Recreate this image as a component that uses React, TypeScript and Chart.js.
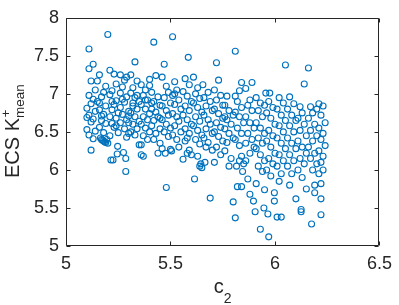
import React, { useEffect, useRef } from 'react';
import { Chart, registerables } from 'chart.js';

Chart.register(...registerables);

const xTicks = [5, 5.5, 6, 6.5];
const yTicks = [5, 5.5, 6, 6.5, 7, 7.5, 8];
const xLabel = { main: 'c', sub: '2' };
const yLabel = { main: 'ECS K', sup: '+', sub: 'mean' };

// [c2, ECS K+ mean] samples grouped by c2 range
const samplesA: [number, number][] = [
  [5.11,7.59],[5.13,7.39],[5.11,7.33],[5.12,7.17],[5.15,7.17],[5.14,7.05],[5.11,6.98],[5.13,6.93],[5.12,6.87],[5.10,6.81],[5.14,6.77],[5.11,6.72],[5.13,6.67],[5.12,6.63],[5.10,6.53],[5.14,6.51],[5.11,6.46],[5.13,6.41],[5.12,6.26],[5.15,6.90],[5.10,6.69],
  [5.20,7.78],[5.16,7.25],[5.18,7.02],[5.17,6.96],[5.19,6.84],[5.16,6.79],[5.18,6.73],[5.17,6.65],[5.19,6.61],[5.16,6.56],[5.18,6.49],[5.165,6.42],[5.17,6.40],[5.175,6.39],[5.18,6.38],[5.185,6.37],[5.19,6.36],[5.20,6.35],[5.195,6.40],[5.16,6.88],[5.19,7.10],[5.17,6.71],
  [5.21,7.31],[5.23,7.26],[5.24,7.13],[5.22,7.04],[5.21,6.99],[5.24,6.91],[5.23,6.86],[5.22,6.79],[5.25,6.75],[5.21,6.70],[5.24,6.68],[5.22,6.61],[5.23,6.56],[5.25,6.49],[5.21,6.45],[5.215,6.13],[5.225,6.13],[5.247,6.31],[5.245,6.21],[5.22,6.90],[5.24,6.58],
  [5.26,7.25],[5.28,7.18],[5.29,7.22],[5.27,7.09],[5.26,7.01],[5.29,6.96],[5.28,6.89],[5.26,6.82],[5.30,6.77],[5.27,6.73],[5.29,6.66],[5.26,6.62],[5.28,6.54],[5.30,6.48],[5.29,6.43],[5.275,6.23],[5.286,6.15],[5.286,5.98],[5.27,6.93],[5.30,6.71],
  [5.33,7.42],[5.31,7.25],[5.34,7.17],[5.32,7.08],[5.31,7.01],[5.33,6.95],[5.35,6.90],[5.32,6.84],[5.34,6.80],[5.31,6.75],[5.33,6.70],[5.35,6.64],[5.32,6.60],[5.34,6.54],[5.31,6.50],[5.33,6.46],[5.35,6.33],[5.32,6.88],[5.30,6.62],[5.34,6.98],
  [5.36,7.12],[5.38,7.05],[5.37,6.98],[5.39,6.92],[5.36,6.86],[5.38,6.80],[5.37,6.70],[5.39,6.66],[5.36,6.60],[5.38,6.55],[5.37,6.45],[5.36,6.33],[5.36,6.20],[5.37,6.18],[5.39,6.40],[5.38,6.92],
];

const samplesB: [number, number][] = [
  [5.40,7.19],[5.40,6.74],[5.40,6.50],
  [5.42,7.68],[5.40,7.11],[5.43,7.24],[5.41,7.02],[5.44,6.96],[5.42,6.90],[5.45,6.85],[5.41,6.80],[5.43,6.76],[5.44,6.70],[5.42,6.65],[5.41,6.58],[5.45,6.54],[5.43,6.48],[5.44,6.22],[5.42,6.40],[5.41,6.88],[5.45,6.68],
  [5.47,7.39],[5.48,7.10],[5.46,7.22],[5.49,7.02],[5.47,6.95],[5.50,6.88],[5.46,6.84],[5.48,6.78],[5.49,6.72],[5.46,6.66],[5.48,6.60],[5.50,6.55],[5.47,6.50],[5.46,6.28],[5.475,6.22],[5.48,5.77],[5.49,6.44],[5.45,6.35],
  [5.51,7.75],[5.52,7.16],[5.53,7.05],[5.51,6.98],[5.54,6.92],[5.52,6.86],[5.55,6.80],[5.51,6.74],[5.53,6.70],[5.54,6.64],[5.52,6.58],[5.50,6.27],[5.505,6.25],[5.53,6.40],[5.55,6.50],[5.51,6.46],[5.54,6.30],[5.52,7.00],
  [5.585,7.48],[5.57,7.20],[5.59,7.12],[5.56,7.03],[5.58,6.97],[5.60,6.90],[5.57,6.84],[5.59,6.78],[5.56,6.72],[5.58,6.66],[5.60,6.60],[5.57,6.54],[5.59,6.48],[5.56,6.14],[5.58,6.22],[5.59,6.26],[5.60,6.20],[5.57,6.38],[5.58,6.42],
  [5.61,7.22],[5.63,7.08],[5.62,7.00],[5.64,6.94],[5.61,6.88],[5.63,6.82],[5.65,6.76],[5.62,6.70],[5.64,6.64],[5.61,6.58],[5.63,6.52],[5.65,6.46],[5.62,6.40],[5.63,6.18],[5.615,5.88],[5.64,6.05],[5.645,6.08],[5.65,6.03],[5.64,6.34],
  [5.655,7.12],[5.68,7.02],[5.66,6.95],[5.69,6.90],[5.67,6.84],[5.70,6.78],[5.66,6.72],[5.68,6.66],[5.69,6.60],[5.67,6.54],[5.70,6.48],[5.66,6.42],[5.68,6.36],[5.70,6.26],[5.665,6.10],[5.69,5.63],[5.67,6.30],
  [5.72,7.41],[5.73,7.18],[5.71,7.05],[5.74,6.98],[5.72,6.92],[5.75,6.85],[5.71,6.80],[5.73,6.74],[5.75,6.68],[5.72,6.62],[5.74,6.56],[5.71,6.50],[5.73,6.44],[5.75,6.38],[5.72,6.30],[5.74,6.20],[5.71,6.10],
  [5.76,6.25],[5.77,6.97],[5.76,6.85],[5.78,6.78],[5.77,6.66],[5.79,6.60],[5.76,6.54],[5.78,6.48],[5.77,6.36],[5.79,6.15],[5.78,6.05],[5.76,6.70],
];

const samplesC: [number, number][] = [
  [5.80,6.72],[5.80,6.42],[5.80,5.58],
  [5.81,7.56],[5.84,7.15],[5.83,7.04],[5.81,6.97],[5.82,6.90],[5.84,6.82],[5.81,6.76],[5.83,6.70],[5.85,6.62],[5.82,6.55],[5.84,6.48],[5.81,6.40],[5.83,6.32],[5.816,6.05],[5.83,6.12],[5.84,6.18],[5.845,5.98],[5.85,6.08],[5.81,5.37],[5.82,5.78],[5.84,5.78],
  [5.89,7.15],[5.86,7.07],[5.88,6.92],[5.87,6.85],[5.89,6.78],[5.86,6.70],[5.88,6.62],[5.90,6.55],[5.87,6.48],[5.89,6.40],[5.86,6.35],[5.88,6.22],[5.87,5.88],[5.88,5.68],[5.897,5.59],[5.905,5.45],[5.86,6.12],[5.90,6.30],
  [5.91,6.95],[5.93,6.88],[5.95,6.85],[5.92,6.78],[5.94,6.70],[5.91,6.62],[5.93,6.55],[5.95,6.48],[5.92,6.42],[5.94,6.35],[5.91,6.28],[5.93,6.20],[5.95,6.12],[5.92,6.05],[5.94,5.98],[5.93,5.22],[5.947,5.50],[5.95,5.74],[5.91,5.82],
  [5.956,7.01],[5.975,7.01],[5.97,6.90],[5.99,6.82],[5.96,6.75],[5.98,6.68],[5.97,6.52],[5.99,6.45],[5.96,6.38],[5.98,6.30],[5.97,6.15],[5.99,6.08],[5.96,6.00],[5.98,5.92],[5.97,5.12],[5.966,5.42],[5.997,5.59],[5.997,5.70],
];

const samplesD: [number, number][] = [
  [6.00,6.60],[6.00,6.22],
  [6.05,7.38],[6.02,6.95],[6.04,6.88],[6.01,6.80],[6.03,6.72],[6.05,6.65],[6.02,6.58],[6.04,6.50],[6.01,6.42],[6.03,6.35],[6.05,6.28],[6.02,6.20],[6.04,6.12],[6.01,6.05],[6.03,5.95],[6.01,5.38],[6.03,5.38],[6.02,5.85],
  [6.07,6.96],[6.09,6.87],[6.06,6.80],[6.08,6.72],[6.10,6.65],[6.07,6.58],[6.09,6.50],[6.06,6.42],[6.08,6.35],[6.10,6.28],[6.07,6.20],[6.09,6.12],[6.06,6.05],[6.08,5.95],[6.10,5.62],[6.07,5.80],
  [6.14,7.13],[6.12,6.83],[6.13,6.75],[6.11,6.68],[6.14,6.60],[6.12,6.52],[6.15,6.45],[6.11,6.38],[6.13,6.30],[6.15,6.22],[6.12,6.15],[6.14,6.08],[6.11,6.00],[6.125,5.45],[6.125,5.48],[6.13,5.90],[6.15,5.75],
  [6.16,7.34],[6.17,6.83],[6.18,6.75],[6.16,6.68],[6.19,6.60],[6.17,6.52],[6.20,6.45],[6.18,6.38],[6.16,6.30],[6.19,6.22],[6.17,6.15],[6.20,6.08],[6.18,6.00],[6.175,5.29],[6.19,5.70],[6.19,5.80],[6.20,6.80],
  [6.21,6.87],[6.23,6.84],[6.22,6.72],[6.24,6.62],[6.21,6.55],[6.23,6.48],[6.22,6.40],[6.24,6.32],[6.21,6.25],[6.23,6.18],[6.22,6.10],[6.21,5.95],[6.22,5.82],[6.22,5.62],[6.22,5.41],[6.23,6.00],
];

const FONT = "'Liberation Sans', Arial, Helvetica, sans-serif";
const AXIS_COLOR = '#262626';
const MARKER_COLOR = '#0072BD';

const fmt = (v: any) => String(Number(v));

const boxPlugin = {
  id: 'matlabBox',
  afterDraw(chart: any) {
    const { ctx, chartArea: a, scales } = chart;
    ctx.save();
    ctx.strokeStyle = AXIS_COLOR;
    ctx.lineWidth = 1;
    const L = Math.round(a.left) + 0.5;
    const R = Math.round(a.right) - 0.5;
    const T = Math.round(a.top) + 0.5;
    const B = Math.round(a.bottom) - 0.5;
    ctx.beginPath();
    ctx.rect(L, T, R - L, B - T);
    const tl = 4;
    xTicks.forEach((v) => {
      const px = Math.round(scales.x.getPixelForValue(v)) + 0.5;
      ctx.moveTo(px, B); ctx.lineTo(px, B - tl);
      ctx.moveTo(px, T); ctx.lineTo(px, T + tl);
    });
    yTicks.forEach((v) => {
      const py = Math.round(scales.y.getPixelForValue(v)) + 0.5;
      ctx.moveTo(L, py); ctx.lineTo(L + tl, py);
      ctx.moveTo(R, py); ctx.lineTo(R - tl, py);
    });
    ctx.stroke();

    // x axis title: c with subscript 2
    ctx.fillStyle = AXIS_COLOR;
    ctx.textBaseline = 'alphabetic';
    ctx.textAlign = 'left';
    const mainFont = `20px ${FONT}`;
    const subFont = `14px ${FONT}`;
    ctx.font = mainFont;
    const wc = ctx.measureText(xLabel.main).width;
    ctx.font = subFont;
    const w2 = ctx.measureText(xLabel.sub).width;
    const cx = (a.left + a.right) / 2;
    const startX = cx - (wc + w2) / 2;
    ctx.font = mainFont;
    ctx.fillText(xLabel.main, startX, 293);
    ctx.font = subFont;
    ctx.fillText(xLabel.sub, startX + wc, 303);

    // y axis title: ECS K^+_mean rotated
    ctx.save();
    ctx.translate(18.5, 178);
    ctx.rotate(-Math.PI / 2);
    ctx.font = mainFont;
    ctx.fillText(yLabel.main, 0, 0);
    const wm = ctx.measureText(yLabel.main).width;
    ctx.font = `13.5px ${FONT}`;
    ctx.fillText(yLabel.sup, wm + 0.5, -8.5);
    ctx.fillText(yLabel.sub, wm, 5.5);
    ctx.restore();
    ctx.restore();
  },
};

export default function App() {
  const ref = useRef<HTMLCanvasElement | null>(null);

  useEffect(() => {
    document.body.style.margin = '0';
    const canvas = ref.current;
    if (!canvas) return;
    const all = [...samplesA, ...samplesB, ...samplesC, ...samplesD];
    const chart = new Chart(canvas, {
      type: 'scatter',
      data: {
        datasets: [
          {
            data: all.map(([x, y]) => ({ x, y })),
            pointStyle: 'circle',
            pointRadius: 3,
            pointBorderWidth: 1.1,
            pointBackgroundColor: 'rgba(0,0,0,0)',
            pointBorderColor: MARKER_COLOR,
            showLine: false,
          },
        ],
      },
      options: {
        responsive: false,
        animation: false,
        devicePixelRatio: 1,
        layout: { padding: { top: 7, right: 13, left: 0, bottom: 0 } },
        plugins: { legend: { display: false }, tooltip: { enabled: false } },
        scales: {
          x: {
            type: 'linear',
            min: 5,
            max: 6.5,
            afterBuildTicks: (s: any) => { s.ticks = xTicks.map((v) => ({ value: v })); },
            afterFit: (s: any) => { s.height = 59; },
            ticks: { color: AXIS_COLOR, font: { family: FONT, size: 18 }, padding: 7, maxRotation: 0, callback: fmt },
            grid: { display: false, drawTicks: false, tickLength: 0 },
            border: { display: false },
          },
          y: {
            type: 'linear',
            min: 5,
            max: 8,
            afterBuildTicks: (s: any) => { s.ticks = yTicks.map((v) => ({ value: v })); },
            afterFit: (s: any) => { s.width = 66; },
            ticks: { color: AXIS_COLOR, font: { family: FONT, size: 18 }, padding: 7, callback: fmt },
            grid: { display: false, drawTicks: false, tickLength: 0 },
            border: { display: false },
          },
        },
      },
      plugins: [boxPlugin],
    });
    return () => chart.destroy();
  }, []);

  return (
    <div style={{ width: 399, height: 305, background: '#fff' }}>
      <canvas ref={ref} width={399} height={305} />
    </div>
  );
}
